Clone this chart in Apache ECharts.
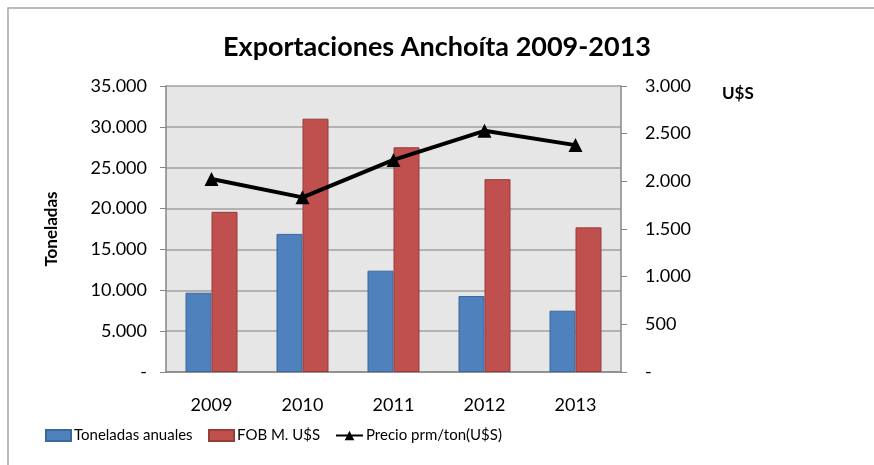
<!DOCTYPE html>
<html>
<head>
<meta charset="utf-8">
<script src="https://cdn.jsdelivr.net/npm/echarts@6/dist/echarts.min.js"></script>
<style>
  html, body { margin: 0; padding: 0; background: #fff; }
  #myChart { width: 874px; height: 465px; }
</style>
</head>
<body>
<div id="myChart"></div>
<script>
// datos
var years = ["2009", "2010", "2011", "2012", "2013"];
var toneladas = [9700, 16900, 12400, 9300, 7500];
var fob = [19600, 31000, 27500, 23600, 17700];
var precio = [2025, 1832, 2225, 2530, 2380];

var font = "Lato, 'Open Sans', sans-serif";

// 35000 -> "35.000", 0 -> "-"
function fmt(v) {
  if (v === 0) return "-";
  return String(v).replace(/\B(?=(\d{3})+(?!\d))/g, ".");
}

var legendText = { fontFamily: font, fontSize: 15, color: "#000", padding: [0, 0, 0, -2] };

var myChart = echarts.init(document.getElementById("myChart"));
myChart.setOption({
  animation: false,
  title: {
    text: "Exportaciones Anchoíta 2009-2013",
    left: "center",
    top: 29,
    textStyle: { fontFamily: font, fontSize: 27, fontWeight: "bold", color: "#000" }
  },
  graphic: [
    {
      type: "polyline",
      shape: { points: [[8, 465], [8, 8], [874, 8]] },
      style: { stroke: "#a6a6a6", lineWidth: 1.5, fill: null }
    },
    {
      type: "text",
      left: 722,
      top: 85,
      style: { text: "U$S", font: "bold 17px " + font, fill: "#000" }
    }
  ],
  legend: [
    {
      data: ["Toneladas anuales"],
      left: 45, top: 428, padding: 0,
      icon: "rect", itemWidth: 25, itemHeight: 11,
      textStyle: legendText
    },
    {
      data: ["FOB M. U$S"],
      left: 208, top: 428, padding: 0,
      icon: "rect", itemWidth: 25, itemHeight: 11,
      textStyle: legendText
    },
    {
      data: ["Precio prm/ton(U$S)"],
      left: 335, top: 428, padding: 0,
      itemWidth: 27, itemHeight: 12,
      textStyle: legendText
    }
  ],
  grid: { left: 166, right: 253, top: 86, bottom: 93 },
  xAxis: {
    type: "category",
    data: years,
    axisTick: { show: false },
    axisLine: { lineStyle: { color: "#868686", width: 1.5 } },
    axisLabel: { fontFamily: font, fontSize: 18, color: "#000", margin: 24 }
  },
  yAxis: [
    {
      type: "value",
      min: 0, max: 35000, interval: 5000,
      name: "Toneladas",
      nameLocation: "middle",
      nameGap: 106,
      nameTextStyle: { fontFamily: font, fontSize: 17, fontWeight: "bold", color: "#000" },
      axisLine: { show: true, lineStyle: { color: "#868686", width: 1.5 } },
      axisTick: { show: true, length: 6, lineStyle: { color: "#868686" } },
      axisLabel: { fontFamily: font, fontSize: 18, color: "#000", margin: 19, formatter: fmt },
      splitLine: { show: true, lineStyle: { color: "#a0a0a0", width: 1.5 } },
      splitArea: { show: true, areaStyle: { color: ["#e6e6e6", "#e6e6e6"] } }
    },
    {
      type: "value",
      min: 0, max: 3000, interval: 500,
      position: "right",
      axisLine: { show: true, lineStyle: { color: "#868686", width: 1.5 } },
      axisTick: { show: true, length: 6, lineStyle: { color: "#868686" } },
      axisLabel: { fontFamily: font, fontSize: 18, color: "#000", margin: 24, formatter: fmt },
      splitLine: { show: false }
    }
  ],
  series: [
    {
      name: "Toneladas anuales",
      type: "bar",
      data: toneladas,
      barWidth: 26,
      barGap: 0,
      itemStyle: { color: "#4f81bd", borderColor: "#3a679c", borderWidth: 1 }
    },
    {
      name: "FOB M. U$S",
      type: "bar",
      data: fob,
      barWidth: 26,
      itemStyle: { color: "#c0504d", borderColor: "#963d3a", borderWidth: 1 }
    },
    {
      name: "Precio prm/ton(U$S)",
      type: "line",
      yAxisIndex: 1,
      data: precio,
      symbol: "triangle",
      symbolSize: 14,
      lineStyle: { color: "#000", width: 4 },
      itemStyle: { color: "#000" }
    }
  ]
});
</script>
</body>
</html>
